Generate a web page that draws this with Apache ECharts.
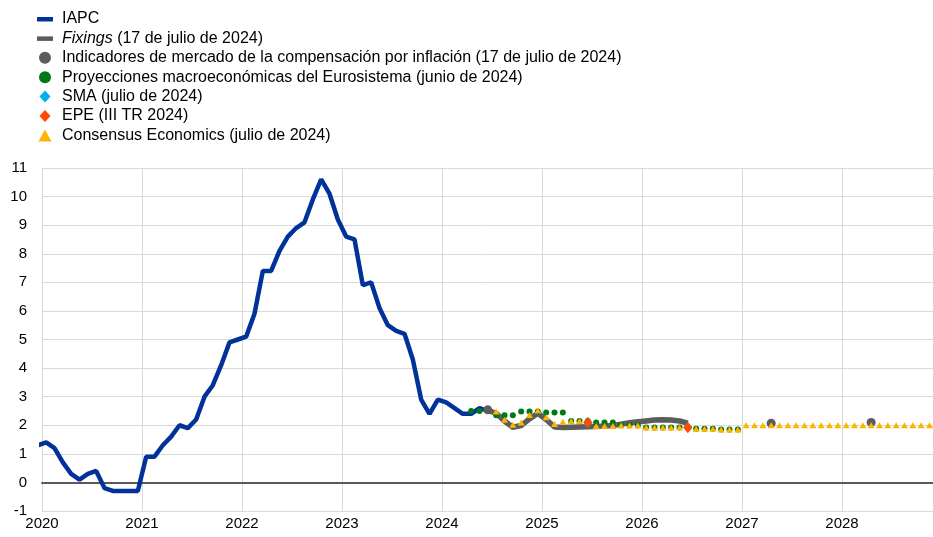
<!DOCTYPE html>
<html>
<head>
<meta charset="utf-8">
<script src="https://cdn.jsdelivr.net/npm/echarts@6/dist/echarts.min.js"></script>
<style>
 html, body { margin: 0; padding: 0; background: #fff; }
 #chart { width: 933px; height: 537px; }
</style>
</head>
<body>
<div id="chart"></div>
<script>
// datos mensuales (inicio [año, mes] + valores)
var iapcStart = [2019, 12];
var iapcValues = [1.3,
  1.4, 1.2, 0.7, 0.3, 0.1, 0.3, 0.4, -0.2, -0.3, -0.3, -0.3, -0.3,
  0.9, 0.9, 1.3, 1.6, 2.0, 1.9, 2.2, 3.0, 3.4, 4.1, 4.9, 5.0,
  5.1, 5.9, 7.4, 7.4, 8.1, 8.6, 8.9, 9.1, 9.9, 10.6, 10.1, 9.2,
  8.6, 8.5, 6.9, 7.0, 6.1, 5.5, 5.3, 5.2, 4.3, 2.9, 2.4, 2.9,
  2.8, 2.6, 2.4, 2.4, 2.6, 2.5];

var fixStart = [2024, 6];
var fixValues = [2.52, 2.42, 2.15, 1.93, 1.99, 2.22, 2.42,
  2.2, 1.94, 1.92, 1.93, 1.94, 1.95, 1.96, 1.97, 1.99, 2.04, 2.09, 2.12,
  2.15, 2.18, 2.19, 2.18, 2.15, 2.07];

var proyStart = [2024, 4];
var proyValues = [2.5, 2.5, 2.5, 2.35, 2.35, 2.35, 2.48, 2.48, 2.48,
  2.45, 2.45, 2.45, 2.15, 2.15, 2.15, 2.1, 2.1, 2.1, 2.0, 2.0, 2.0,
  1.92, 1.92, 1.92, 1.92, 1.92, 1.92, 1.88, 1.88, 1.88, 1.85, 1.85, 1.85];

var consStart = [2024, 7];
var consValues = [2.48, 2.19, 2.02, 2.1, 2.36, 2.52,
  2.28, 2.04, 2.12, 2.15, 2.15, 2.12, 1.97, 1.97, 1.97, 1.99, 1.99, 1.99,
  1.92, 1.92, 1.92, 1.92, 1.92, 1.92, 1.88, 1.88, 1.88, 1.85, 1.85, 1.85,
  2.0, 2.0, 2.0, 2.0, 2.0, 2.0, 2.0, 2.0, 2.0, 2.0, 2.0, 2.0,
  2.0, 2.0, 2.0, 2.0, 2.0, 2.0, 2.0, 2.0, 2.0, 2.0, 2.0];

// puntos sueltos: [año, mes, valor]
var mercadoPts = [[2024, 6, 2.54], [2027, 4, 2.07], [2028, 4, 2.1]];
var smaPts = [[2025, 6, 2.1], [2026, 6, 1.92]];
var epePts = [[2025, 6, 2.1], [2026, 6, 1.92]];

var yearTicks = [2020, 2021, 2022, 2023, 2024, 2025, 2026, 2027, 2028];

function mes(y, m) { return y + (m - 0.5) / 12; }
function serie(start, values) {
  var out = [];
  for (var i = 0; i < values.length; i++) {
    var m = start[1] + i;
    out.push([mes(start[0] + Math.floor((m - 1) / 12), ((m - 1) % 12) + 1), values[i]]);
  }
  return out;
}
function puntos(list) {
  return list.map(function (p) { return [mes(p[0], p[1]), p[2]]; });
}

var FONT = 'Liberation Sans, Arial, sans-serif';
var names = ['IAPC',
  'Fixings (17 de julio de 2024)',
  'Indicadores de mercado de la compensación por inflación (17 de julio de 2024)',
  'Proyecciones macroeconómicas del Eurosistema (junio de 2024)',
  'SMA (julio de 2024)',
  'EPE (III TR 2024)',
  'Consensus Economics (julio de 2024)'];

var myChart = echarts.init(document.getElementById('chart'), null, { renderer: 'canvas' });
var option = {
  animation: false,
  textStyle: { fontFamily: FONT },
  legend: {
    orient: 'vertical',
    left: 37, top: 11, padding: 0,
    itemWidth: 16, itemHeight: 12, itemGap: 3.4,
    textStyle: { fontSize: 16, lineHeight: 16, color: '#000', fontFamily: FONT, padding: [0, 0, 0, 4],
      rich: { i: { fontStyle: 'italic', fontSize: 16, lineHeight: 16, fontFamily: FONT, color: '#000' } } },
    formatter: function (n) {
      if (n.indexOf('Fixings') === 0) return '{i|Fixings} (17 de julio de 2024)';
      return n;
    },
    data: [
      { name: names[0], icon: 'path://M0,0M16,12M0,4L16,4L16,8.5L0,8.5Z' },
      { name: names[1], icon: 'path://M0,0M16,12M0,4L16,4L16,8.5L0,8.5Z' },
      { name: names[2], icon: 'circle' },
      { name: names[3], icon: 'circle' },
      { name: names[4], icon: 'path://M0,0M16,13M8,0L14,6.5L8,13L2,6.5Z' },
      { name: names[5], icon: 'path://M0,0M16,13M8,0L14,6.5L8,13L2,6.5Z' },
      { name: names[6], icon: 'path://M0,0M16,12M8,0L14.5,12L1.5,12Z' }
    ]
  },
  grid: { left: 42, right: 0, top: 168, bottom: 26, containLabel: false },
  xAxis: {
    type: 'value', min: 2020, max: 2028.91, interval: 1,
    axisLine: { show: true, onZero: true, lineStyle: { color: '#595959', width: 2 } },
    axisTick: { show: false },
    splitLine: { show: true, lineStyle: { color: '#d9d9d9', width: 1 } },
    axisLabel: {
      color: '#000', fontSize: 15, fontFamily: FONT, margin: 5,
      showMaxLabel: false,
      formatter: function (v) { return yearTicks.indexOf(v) >= 0 ? String(v) : ''; }
    }
  },
  yAxis: {
    type: 'value', min: -1, max: 11, interval: 1,
    axisLine: { show: false }, axisTick: { show: false },
    splitLine: { show: true, lineStyle: { color: '#d9d9d9', width: 1 } },
    axisLabel: { color: '#000', fontSize: 15, fontFamily: FONT, margin: 15 }
  },
  series: [
    { name: names[0], type: 'line', data: serie(iapcStart, iapcValues), showSymbol: false, symbol: 'none',
      lineStyle: { color: '#003299', width: 4.5 }, itemStyle: { color: '#003299' }, z: 2 },
    { name: names[1], type: 'line', data: serie(fixStart, fixValues), showSymbol: false, symbol: 'none',
      lineStyle: { color: '#5c5c5c', width: 5.5 }, itemStyle: { color: '#5c5c5c' }, z: 3 },
    { name: names[3], type: 'scatter', data: serie(proyStart, proyValues), symbol: 'circle', symbolSize: 6,
      itemStyle: { color: '#007816', opacity: 1 }, z: 4 },
    { name: names[2], type: 'scatter', data: puntos(mercadoPts), symbol: 'circle', symbolSize: 9,
      itemStyle: { color: '#5c5c5c', opacity: 1 }, z: 5 },
    { name: names[6], type: 'scatter', data: serie(consStart, consValues), symbol: 'triangle', symbolSize: [7, 6],
      itemStyle: { color: '#ffb400', opacity: 1 }, z: 6 },
    { name: names[4], type: 'scatter', data: puntos(smaPts), symbol: 'diamond', symbolSize: [9, 11],
      itemStyle: { color: '#00b1ea', opacity: 1 }, z: 7 },
    { name: names[5], type: 'scatter', data: puntos(epePts), symbol: 'diamond', symbolSize: [9, 11],
      itemStyle: { color: '#ff4b00', opacity: 1 }, z: 8 }
  ]
};
myChart.setOption(option);
</script>
</body>
</html>
